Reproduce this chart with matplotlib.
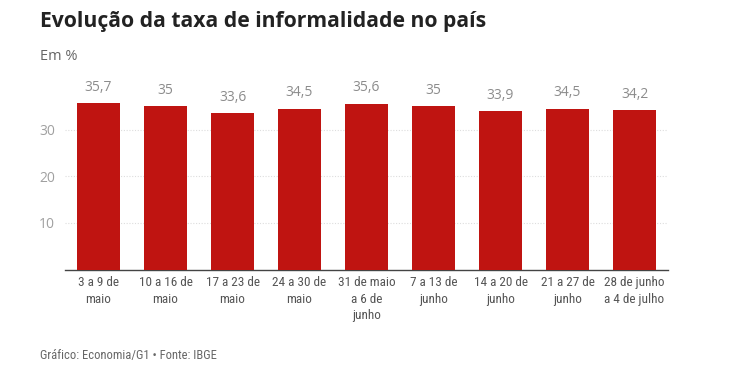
import matplotlib.pyplot as plt
from matplotlib import font_manager

# Data
periods = ["3 a 9 de\nmaio", "10 a 16 de\nmaio", "17 a 23 de\nmaio", "24 a 30 de\nmaio",
           "31 de maio\na 6 de\njunho", "7 a 13 de\njunho", "14 a 20 de\njunho",
           "21 a 27 de\njunho", "28 de junho\na 4 de julho"]
rates = [35.7, 35.0, 33.6, 34.5, 35.6, 35.0, 33.9, 34.5, 34.2]
rate_labels = ["35,7", "35", "33,6", "34,5", "35,6", "35", "33,9", "34,5", "34,2"]
yticks = [10, 20, 30]

# pick a condensed face for the category labels and footer
fonts = {(f.name, f.weight) for f in font_manager.fontManager.ttflist}
if ("Open Sans Condensed", 300) in fonts:
    cond, cond_w = "Open Sans Condensed", 300
elif any(n == "Roboto Condensed" for n, w in fonts):
    cond, cond_w = "Roboto Condensed", 400
else:
    cond, cond_w = "Open Sans", 400
plt.rcParams['font.family'] = ['Open Sans', 'DejaVu Sans']

fig = plt.figure(figsize=(7.32, 3.84), dpi=100)
ax = fig.add_axes([65 / 732, (384 - 269.5) / 384, 603 / 732, 186.5 / 384])

x = range(len(rates))
ax.bar(x, rates, width=0.64, color="#bf1411", zorder=3)
for i, (v, lab) in enumerate(zip(rates, rate_labels)):
    ax.annotate(lab, (i, v), xytext=(0, 6), textcoords="offset points",
                ha="center", va="bottom", fontsize=10, color="#8c8c8c")

ax.set_xlim(-0.5, len(rates) - 0.5)
ax.set_ylim(0, 40)
ax.set_yticks(yticks)
ax.set_yticklabels([str(t) for t in yticks], color="#a0a0a0", fontsize=10)
ax.set_xticks(list(x))
ax.set_xticklabels(periods, fontsize=9.5, color="#555555", family=[cond, 'DejaVu Sans'],
                   fontweight=cond_w, linespacing=1.35)
ax.tick_params(axis="both", length=0)
ax.tick_params(axis="x", pad=5)
ax.tick_params(axis="y", pad=7)
ax.grid(axis="y", color="#dddddd", linestyle=(0, (1, 1.5)), linewidth=0.8, zorder=0)
for s in ["top", "right", "left"]:
    ax.spines[s].set_visible(False)
ax.spines["bottom"].set_color("#444444")
ax.spines["bottom"].set_linewidth(1)

fig.text(40 / 732, 1 - 22 / 384, "Evolução da taxa de informalidade no país",
         fontsize=15.2, fontweight="bold", color="#222222", va="center")
fig.text(40 / 732, 1 - 57 / 384, "Em %", fontsize=10.5, color="#666666", va="center")
fig.text(40 / 732, 1 - 355 / 384, "Gráfico: Economia/G1 • Fonte: IBGE", fontsize=9,
         color="#666666", va="center", family=[cond, 'DejaVu Sans'], fontweight=cond_w)

fig.savefig("out.png", dpi=100)
